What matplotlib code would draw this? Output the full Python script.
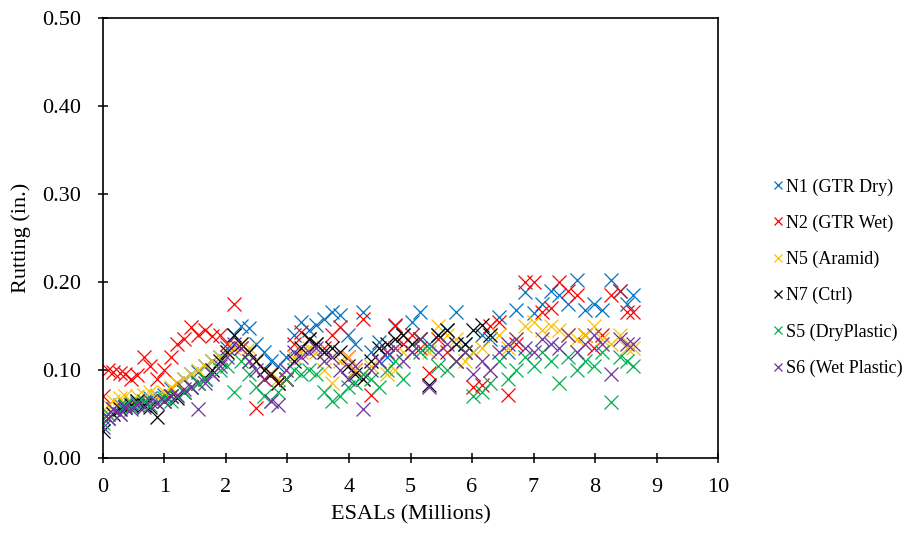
import matplotlib
matplotlib.use('Agg')
import matplotlib.pyplot as plt

# ESALs (millions) at each rutting measurement
esals = [0.00, 0.08, 0.17, 0.27, 0.36, 0.45, 0.55, 0.66, 0.77, 0.88,
         0.99, 1.10, 1.21, 1.32, 1.43, 1.55, 1.66, 1.78, 1.90, 2.02,
         2.13, 2.25, 2.37, 2.49, 2.61, 2.73, 2.85, 2.97, 3.10, 3.22,
         3.35, 3.47, 3.60, 3.72, 3.85, 3.98, 4.10, 4.22, 4.35, 4.48,
         4.61, 4.75, 4.88, 5.02, 5.16, 5.30, 5.45, 5.60, 5.74, 5.88,
         6.02, 6.16, 6.30, 6.44, 6.58, 6.72, 6.86, 7.00, 7.14, 7.28,
         7.42, 7.56, 7.70, 7.84, 7.98, 8.12, 8.26, 8.40, 8.52, 8.62]

n1_gtr_dry = [0.045, 0.050, 0.055, 0.060, 0.058, 0.062, 0.065, 0.064, 0.068, 0.070,
              0.072, 0.078, 0.085, 0.090, 0.095, 0.098, 0.105, 0.110, 0.115, 0.125,
              0.140, 0.150, 0.148, 0.130, 0.120, 0.110, 0.105, 0.115, 0.140, 0.155,
              0.145, 0.151, 0.158, 0.166, 0.162, 0.140, 0.130, 0.166, 0.120, 0.132,
              0.115, 0.150, 0.140, 0.155, 0.166, 0.130, 0.140, 0.145, 0.166, 0.130,
              0.120, 0.140, 0.135, 0.160, 0.120, 0.168, 0.189, 0.165, 0.175, 0.190,
              0.185, 0.175, 0.202, 0.168, 0.175, 0.168, 0.202, 0.190, 0.175, 0.185]

n2_gtr_wet = [0.070, 0.100, 0.098, 0.096, 0.095, 0.090, 0.094, 0.115, 0.105, 0.090,
              0.100, 0.115, 0.130, 0.135, 0.149, 0.140, 0.145, 0.138, 0.140, 0.130,
              0.175, 0.125, 0.110, 0.057, 0.090, 0.095, 0.085, 0.090, 0.130, 0.143,
              0.135, 0.130, 0.125, 0.140, 0.149, 0.115, 0.100, 0.158, 0.072, 0.110,
              0.120, 0.151, 0.130, 0.140, 0.125, 0.096, 0.135, 0.120, 0.110, 0.120,
              0.080, 0.083, 0.150, 0.155, 0.072, 0.130, 0.200, 0.200, 0.166, 0.170,
              0.200, 0.190, 0.185, 0.140, 0.125, 0.140, 0.185, 0.190, 0.166, 0.166]

n5_aramid = [0.050, 0.060, 0.065, 0.068, 0.070, 0.065, 0.070, 0.072, 0.075, 0.070,
             0.075, 0.080, 0.085, 0.090, 0.095, 0.100, 0.105, 0.110, 0.115, 0.120,
             0.125, 0.130, 0.125, 0.110, 0.100, 0.095, 0.090, 0.100, 0.115, 0.120,
             0.125, 0.120, 0.100, 0.085, 0.110, 0.115, 0.100, 0.090, 0.105, 0.110,
             0.095, 0.100, 0.120, 0.130, 0.135, 0.120, 0.150, 0.140, 0.135, 0.110,
             0.120, 0.125, 0.100, 0.140, 0.125, 0.135, 0.150, 0.155, 0.145, 0.150,
             0.145, 0.140, 0.135, 0.140, 0.150, 0.135, 0.130, 0.140, 0.125, 0.125]

n7_ctrl = [0.030, 0.045, 0.050, 0.055, 0.058, 0.060, 0.065, 0.060, 0.058, 0.047,
           0.065, 0.070, 0.068, 0.075, 0.080, 0.085, 0.090, 0.100, 0.110, 0.120,
           0.140, 0.130, 0.120, 0.110, 0.100, 0.095, 0.085, 0.090, 0.110, 0.125,
           0.135, 0.130, 0.120, 0.125, 0.120, 0.105, 0.095, 0.090, 0.110, 0.125,
           0.130, 0.135, 0.140, 0.130, 0.135, 0.083, 0.140, 0.145, 0.130, 0.130,
           0.145, 0.151, 0.140]

s5_dry_plastic = [0.040, 0.050, 0.055, 0.050, 0.060, 0.058, 0.062, 0.065, 0.060, 0.062,
                  0.068, 0.065, 0.070, 0.075, 0.080, 0.085, 0.090, 0.095, 0.100, 0.105,
                  0.075, 0.110, 0.095, 0.080, 0.070, 0.065, 0.075, 0.090, 0.100, 0.095,
                  0.100, 0.095, 0.075, 0.065, 0.070, 0.080, 0.085, 0.095, 0.090, 0.080,
                  0.100, 0.110, 0.090, 0.120, 0.120, 0.125, 0.105, 0.100, 0.110, 0.120,
                  0.070, 0.075, 0.085, 0.110, 0.090, 0.100, 0.115, 0.105, 0.120, 0.110,
                  0.085, 0.115, 0.100, 0.110, 0.105, 0.120, 0.064, 0.115, 0.110, 0.105]

s6_wet_plastic = [0.035, 0.045, 0.055, 0.050, 0.058, 0.055, 0.060, 0.058, 0.065, 0.062,
                  0.065, 0.070, 0.072, 0.078, 0.080, 0.055, 0.085, 0.095, 0.105, 0.115,
                  0.130, 0.125, 0.110, 0.100, 0.090, 0.065, 0.060, 0.100, 0.120, 0.115,
                  0.120, 0.125, 0.110, 0.115, 0.100, 0.090, 0.105, 0.055, 0.100, 0.110,
                  0.120, 0.125, 0.110, 0.120, 0.135, 0.080, 0.120, 0.130, 0.110, 0.120,
                  0.095, 0.110, 0.100, 0.120, 0.130, 0.135, 0.125, 0.120, 0.135, 0.130,
                  0.125, 0.140, 0.120, 0.130, 0.140, 0.130, 0.095, 0.135, 0.130, 0.130]

series = [
    ('N1 (GTR Dry)', n1_gtr_dry, '#0070C0'),
    ('N2 (GTR Wet)', n2_gtr_wet, '#FF0000'),
    ('N5 (Aramid)', n5_aramid, '#FFC000'),
    ('N7 (Ctrl)', n7_ctrl, '#000000'),
    ('S5 (DryPlastic)', s5_dry_plastic, '#00B050'),
    ('S6 (Wet Plastic)', s6_wet_plastic, '#7030A0'),
]

plt.rcParams['font.family'] = ['Liberation Serif', 'DejaVu Serif']

fig = plt.figure(figsize=(9.09, 5.33), dpi=100)
ax = fig.add_axes([0.1133, 0.141, 0.6766, 0.825])

for name, vals, col in series:
    ax.plot(esals[:len(vals)], vals, linestyle='none', marker='x',
            markersize=9.5, markeredgewidth=0.9, color=col, label=name)

ax.set_xlim(0, 10)
ax.set_ylim(0, 0.5)
ax.set_xticks(range(0, 11))
ax.set_yticks([0.0, 0.1, 0.2, 0.3, 0.4, 0.5])
ax.set_yticklabels(['0.00', '0.10', '0.20', '0.30', '0.40', '0.50'])
ax.tick_params(direction='inout', length=7, width=1.1, labelsize=16, colors='black')
ax.tick_params(axis='y', pad=12)
ax.tick_params(axis='x', pad=11)
for sp in ax.spines.values():
    sp.set_linewidth(1.2)
    sp.set_color('black')

ax.set_xlabel('ESALs (Millions)', fontsize=16, labelpad=6)
ax.set_ylabel('Rutting (in.)', fontsize=16, labelpad=8)

ax.legend(loc='center left', bbox_to_anchor=(1.088, 0.41), frameon=False,
          fontsize=13, handlelength=0.6, handletextpad=0.15, labelspacing=1.05,
          markerscale=0.6, borderaxespad=0, borderpad=0)

fig.savefig('out.png', dpi=100)
